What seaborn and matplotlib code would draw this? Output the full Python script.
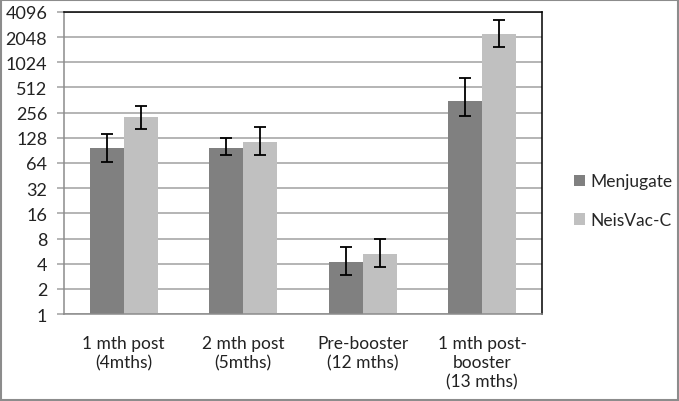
import pandas as pd
import numpy as np
import matplotlib
matplotlib.use("Agg")
import matplotlib.pyplot as plt
import seaborn as sns
from matplotlib.patches import Rectangle
from matplotlib.ticker import FixedLocator, FuncFormatter, NullLocator

# Data (GMT, log2 axis)
categories = ["1 mth post\n(4mths)", "2 mth post\n(5mths)",
              "Pre-booster\n(12 mths)", "1 mth post-\nbooster\n(13 mths)"]
vaccines = ["Menjugate", "NeisVac-C"]
menjugate_gmt = [96, 98, 4.2, 355]
menjugate_lo = [66, 80, 2.9, 235]
menjugate_hi = [142, 127, 6.3, 665]
neisvac_gmt = [225, 115, 5.2, 2250]
neisvac_lo = [163, 80, 3.6, 1550]
neisvac_hi = [310, 171, 7.8, 3310]
yticks = [1, 2, 4, 8, 16, 32, 64, 128, 256, 512, 1024, 2048, 4096]

df = pd.DataFrame({
    "timepoint": categories * 2,
    "vaccine": [vaccines[0]] * 4 + [vaccines[1]] * 4,
    "gmt": menjugate_gmt + neisvac_gmt,
    "lo": menjugate_lo + neisvac_lo,
    "hi": menjugate_hi + neisvac_hi,
})

sns.set_theme(style="white")
plt.rcParams["font.family"] = ["Lato", "DejaVu Sans"]

fig = plt.figure(figsize=(6.79, 4.02), dpi=100)
ax = fig.add_axes([0.094, 0.2164, 0.704, 0.7513])

sns.barplot(data=df, x="timepoint", y="gmt", hue="vaccine",
            palette=["#808080", "#c0c0c0"], width=0.57, gap=0,
            errorbar=None, ax=ax, zorder=2, legend=True, linewidth=0)
ax.set_yscale("log", base=2)
ax.set_ylim(1, 4096)
ax.set_xlim(-0.5, 3.5)

# error bars at the bar centres
for container, (_, sub) in zip(ax.containers, df.groupby("vaccine", sort=False)):
    for patch, (_, row) in zip(container.patches, sub.iterrows()):
        xc = patch.get_x() + patch.get_width() / 2
        ax.errorbar(xc, row["gmt"],
                    yerr=[[row["gmt"] - row["lo"]], [row["hi"] - row["gmt"]]],
                    fmt="none", ecolor="black", elinewidth=1.3, capsize=4.5,
                    capthick=1.3, zorder=3)

ax.yaxis.set_major_locator(FixedLocator(yticks))
ax.yaxis.set_minor_locator(NullLocator())
ax.yaxis.set_major_formatter(FuncFormatter(lambda v, p: f"{int(round(v))}"))
ax.grid(axis="y", color="#a0a0a0", linewidth=1.1, zorder=0)
ax.set_axisbelow(True)

# category boundary ticks like the original
ax.set_xticks([0, 1, 2, 3])
ax.set_xticklabels(categories, fontsize=12.5, color="#222222", linespacing=1.25)
ax.xaxis.set_minor_locator(FixedLocator([-0.5, 0.5, 1.5, 2.5, 3.5]))
ax.tick_params(axis="x", which="major", length=0, pad=15)
ax.tick_params(axis="x", which="minor", length=5, color="#8c8c8c", width=1.1, direction="out")
ax.tick_params(axis="y", which="major", length=5, color="#a0a0a0", width=1.1,
               labelsize=13, labelcolor="#222222", pad=7, left=True)
ax.set_xlabel("")
ax.set_ylabel("")

for side in ["left", "bottom"]:
    ax.spines[side].set_color("#8c8c8c")
    ax.spines[side].set_linewidth(1.1)
for side in ["top", "right"]:
    ax.spines[side].set_color("black")
    ax.spines[side].set_linewidth(1.1)

leg = ax.legend(loc="center left", bbox_to_anchor=(1.035, 0.375), frameon=False,
                fontsize=12.5, handlelength=0.65, handleheight=0.65, handletextpad=0.3,
                labelspacing=1.3)

fig.patches.append(Rectangle((0.002, 0.003), 0.996, 0.994, transform=fig.transFigure,
                             fill=False, edgecolor="#8c8c8c", linewidth=1.5))

fig.savefig("out.png", dpi=100)
